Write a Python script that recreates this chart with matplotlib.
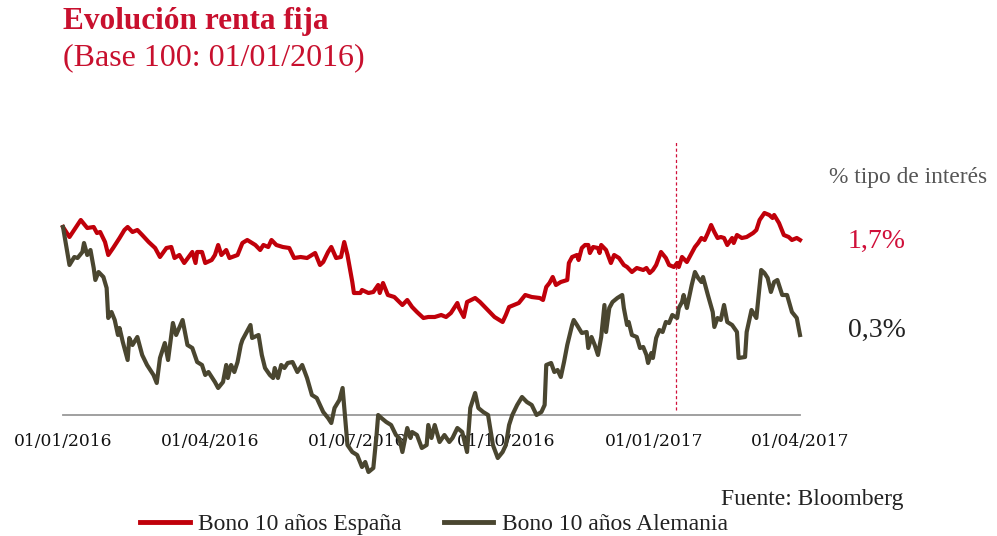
import matplotlib
matplotlib.use("Agg")
import matplotlib.pyplot as plt
import matplotlib.dates as mdates
from matplotlib.lines import Line2D
import pandas as pd

# Base 100 index, x = days since 01/01/2016
start = pd.Timestamp("2016-01-01")

spain_days = [0, 4, 11, 15, 19, 21, 23, 26, 28, 31, 33, 35, 38, 40, 43, 46, 49, 53, 57, 60,
              64, 67, 69, 72, 75, 80, 82, 83, 86, 88, 92, 94, 96, 98, 101, 103, 108, 111,
              114, 119, 122, 124, 127, 129, 132, 136, 140, 143, 147, 151, 156, 159, 161, 164,
              166, 169, 172, 174, 176, 179, 180, 184, 185, 189, 192, 195, 196, 198, 201, 205,
              210, 213, 216, 219, 223, 226,
              230, 234, 237, 240, 244, 245, 248, 250, 255, 258, 261, 264, 267, 270, 272, 274,
              276, 279, 282, 286, 290, 295, 297, 299, 301, 303, 305, 308, 312, 313, 315, 318,
              319, 321, 323, 325, 326, 328, 331, 332, 333, 336, 339, 341,
              344, 347, 349, 352, 355, 359, 361, 363, 365, 367, 370, 373, 375, 378, 380, 381,
              383, 386, 389, 391, 393, 395, 397, 399, 401, 403, 405, 407, 409, 411, 414, 415,
              417, 420, 423, 427, 429, 431, 434, 437, 439, 440, 443, 446, 449, 451, 454, 456]
spain = [100, 95, 103.5, 99.5, 100, 97, 97.5, 92.5, 86, 89.5, 92, 94.5, 98.5, 100, 97.5, 98.5,
         96, 92.5, 89.5, 85, 89.5, 90, 84.5, 86, 82, 87.5, 82, 87.5, 87.5, 82, 83.5, 86, 91, 86,
         88.5, 84.5, 86, 92,
         93.5, 91, 88.5, 91, 90, 93.5, 91, 90, 89.5, 84.5, 85, 84.5, 87, 81, 82.5, 87.5, 90,
         84.5, 85, 92.5, 86, 72.5, 67, 67, 68.5, 67, 67.5, 71, 67, 72, 66, 65, 61, 63.5, 60,
         57.5, 54.5, 55,
         55, 56, 55, 57, 62, 59.5, 55, 62.5, 64.5, 62.5, 60, 57.5, 55, 53.5, 52.5, 56, 60, 61,
         62, 66, 65, 64.5, 63.5, 70, 72, 75, 71, 72.5, 73.5, 82, 85, 86, 83.5, 89.5, 91, 91, 87,
         90, 89.5, 87, 91, 88.5, 82, 86,
         84.5, 81, 80, 77.5, 79.5, 78.5, 79.5, 77, 78.5, 81, 87.5, 84.5, 81, 80, 82, 80, 85,
         82.5, 87, 90, 92, 94.5, 93.5, 97, 101, 97.5, 94.5, 95, 94.5, 91, 94.5, 92, 96, 94.5,
         95, 97, 98.5, 103.5, 107, 106, 104.5, 106, 102, 96, 95, 93.5, 94.5, 93.5]

germany_days = [0, 4, 7, 9, 12, 13, 15, 17, 19, 20, 22, 25, 27, 28, 30, 32, 34, 35, 37, 40,
                41, 43, 46, 49, 52, 56, 58, 60, 63, 65, 68, 70, 74, 77, 80, 83, 86, 88, 90, 94,
                96, 99, 101, 102, 104, 106, 108, 110, 111,
                116, 117, 121, 123, 125, 128, 130, 131, 133, 135, 137, 139, 142, 145, 148, 151,
                154, 157, 161, 164, 166, 168, 171, 173, 176, 179, 182, 185, 187, 189, 192, 194,
                195, 197, 200, 203, 206, 208, 210, 213, 215, 216, 219, 222, 225,
                226, 228, 230, 233, 236, 239, 241, 244, 247, 250, 252, 254, 255, 257, 260, 263,
                266, 269, 272, 274, 276, 278, 281, 284, 287, 290, 293, 296, 298, 299, 302, 304,
                306, 308, 310, 312, 315, 316, 318, 321, 324, 325, 327, 329, 331, 333, 335, 336,
                338, 340,
                343, 346, 347, 349, 350, 352, 355, 357, 359, 361, 362, 364, 365, 367, 369, 371,
                373, 375, 377, 380, 381, 383, 384, 386, 389, 391, 393, 395, 396, 399, 402, 403,
                405, 407, 409, 411, 414, 417, 418, 422, 423, 426, 429, 432, 434, 436, 438, 440,
                442, 443, 445, 448, 451, 454, 456]
germany = [100, 81, 85, 84.5, 87.5, 92, 86, 88.5, 79.5, 73.5, 77.5, 75, 69.5, 54.5, 57.5, 53.5,
           46, 49.5, 42.5, 33.5, 44.5, 41, 45, 36, 31, 26, 22, 34.5, 42, 33.5, 52, 46, 53.5, 41,
           39.5, 32.5, 31, 26, 27.5, 22.5, 19.5, 22.5, 31, 24.5, 31, 27.5, 32.5, 41, 43.5,
           51, 44.5, 46, 36, 29.5, 26, 24.5, 29.5, 24.5, 31, 29.5, 32, 32.5, 27.5, 31, 24.5, 16,
           14.5, 7.5, 4.5, 2, 9.5, 13.5, 19.5, -9, -12.5, -14, -20, -17.5, -22.5, -20.5, -4, 6,
           4.5, 2.5, 1, -4, -5.5, -12.5, -0.5, -5.5, -2.5, -4, -10.5, -9,
           1, -5.5, 1, -7.5, -4, -7.5, -5.5, -0.5, -2.5, -12.5, 9.5, 14.5, 17, 9.5, 7.5, 6, -9,
           -15.5, -12.5, -9, 1, 6, 11, 15, 12.5, 11, 6, 7.5, 11, 31, 32, 27.5, 28.5, 25, 32.5,
           41, 51, 53.5, 51, 47, 47.5, 39.5, 45, 41, 36, 45, 61, 47.5, 59.5, 62.5,
           64.5, 66, 59.5, 51, 52.5, 46, 45, 39.5, 40, 36, 32, 37, 34.5, 44.5, 48.5, 47.5, 52.5,
           52, 56, 54.5, 59.5, 62.5, 66, 59.5, 71, 77.5, 74.5, 72.5, 75, 66, 57.5, 50, 54.5,
           53.5, 61, 52.5, 51, 47.5, 34.5, 35, 47.5, 58.5, 54.5, 78.5, 77, 74.5, 67.5, 72.5,
           73.5, 71, 66, 66, 57.5, 54.5, 46]

tick_dates = ["2016-01-01", "2016-04-01", "2016-07-01", "2016-10-01", "2017-01-01", "2017-04-01"]
marker_date = "2017-01-14"
last_spain = "1,7%"
last_germany = "0,3%"

RED = "#c0000a"
OLIVE = "#4a4630"
TITLE_RED = "#c8102e"

W, H = 997, 536
fig = plt.figure(figsize=(W / 100, H / 100), dpi=100)
ax = fig.add_axes([63 / W, 1 - 415 / H, (800 - 63) / W, (415 - 140) / H])

sx = start + pd.to_timedelta(spain_days, unit="D")
gx = start + pd.to_timedelta(germany_days, unit="D")
ax.plot(sx, spain, color=RED, lw=3.0, clip_on=False, solid_joinstyle="round", zorder=3)
ax.plot(gx, germany, color=OLIVE, lw=3.0, clip_on=False, solid_joinstyle="round", zorder=3)
ax.axvline(pd.Timestamp(marker_date), ymin=0.02, ymax=1, color="#d0103a", lw=0.9,
           ls=(0, (2.5, 2)), zorder=2)

ax.set_xlim(start, pd.Timestamp("2017-04-01"))
ax.set_ylim(6, 143.5)
ax.set_xticks(pd.to_datetime(tick_dates))
ax.xaxis.set_major_formatter(mdates.DateFormatter("%d/%m/%Y"))
ax.tick_params(axis="x", length=0, pad=13, labelsize=12.3, labelcolor="#111")
for lab in ax.get_xticklabels():
    lab.set_fontfamily("DejaVu Serif")
ax.set_yticks([])
for s in ["top", "right", "left"]:
    ax.spines[s].set_visible(False)
ax.spines["bottom"].set_color("#999999")
ax.spines["bottom"].set_linewidth(1.3)
ax.patch.set_alpha(0)

serif = "Liberation Serif"
fig.text(63 / W, 1 - 22 / H, "Evolución renta fija", color=TITLE_RED, fontsize=22.5,
         fontweight="bold", family=serif, va="center", ha="left")
fig.text(63 / W, 1 - 58 / H, "(Base 100: 01/01/2016)", color=TITLE_RED, fontsize=23,
         family=serif, va="center", ha="left")
fig.text(829 / W, 1 - 178 / H, "% tipo de interés", color="#555555", fontsize=16.8,
         family=serif, va="center", ha="left")
fig.text(848 / W, 1 - 241 / H, last_spain, color="#d0103a", fontsize=20,
         family=serif, va="center", ha="left")
fig.text(848 / W, 1 - 330 / H, last_germany, color="#222222", fontsize=20,
         family=serif, va="center", ha="left")
fig.text(903 / W, 1 - 499 / H, "Fuente: Bloomberg", color="#222222", fontsize=17,
         family=serif, va="center", ha="right")

handles = [Line2D([], [], color=RED, lw=3.5), Line2D([], [], color=OLIVE, lw=3.5)]
fig.legend(handles, ["Bono 10 años España", "Bono 10 años Alemania"], ncol=2,
           loc="center left", bbox_to_anchor=(140 / W, 1 - 524 / H), frameon=False,
           prop={"family": serif, "size": 17}, handlelength=2.1, handletextpad=0.35,
           columnspacing=1.8, borderpad=0, borderaxespad=0, labelcolor="#222222")

fig.savefig("out.png", dpi=100)
